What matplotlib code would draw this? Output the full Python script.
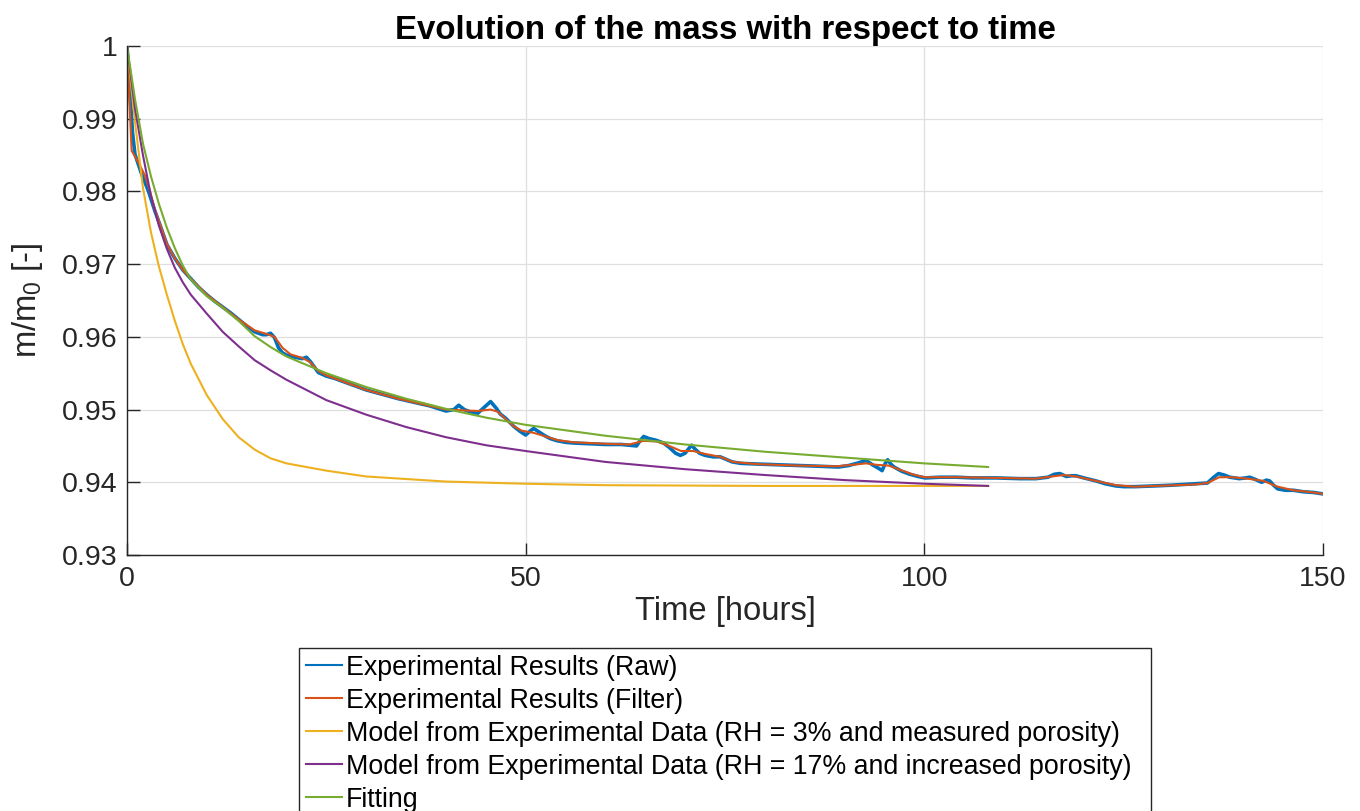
import matplotlib
matplotlib.use("Agg")
import matplotlib.pyplot as plt

plt.rcParams['font.family'] = ['Liberation Sans', 'DejaVu Sans']
plt.rcParams['mathtext.fontset'] = 'custom'
plt.rcParams['mathtext.rm'] = 'Liberation Sans'
plt.rcParams['mathtext.it'] = 'Liberation Sans'

# ---------------- data ----------------
raw_t = [0, 0.38, 0.7, 1.0, 1.8, 2.7, 3.5, 4.2, 5, 6, 6.5, 7, 8, 9, 10, 11, 12, 13, 14, 15, 16, 17,
         17.5, 18, 18.5, 19, 19.5, 20, 21, 22, 22.5, 23, 24, 25, 26, 28, 30, 32, 34, 36, 38, 40,
         41, 41.6, 42.3, 43, 44, 44.8, 45.6, 46.3, 46.8, 47.5, 48.5, 49.3, 50, 50.5, 51, 51.7,
         52.4, 53.1, 54, 55, 56, 58, 60, 62, 63.9, 64.4, 64.8, 65.5, 66.3, 67.3, 68, 68.8, 69.4,
         70, 70.8, 71.3, 71.8, 72.5, 73.5, 74.4, 75.9, 77, 79.3, 82, 84.3, 87, 89.2, 90.5, 91.5,
         92.7, 93.5, 94.3, 94.7, 95.1, 95.4, 95.8, 96.2, 97.2, 98.2, 99.2, 100.1, 102, 104, 106,
         109, 112, 114, 115.5, 116.3, 117, 117.8, 118.5, 119, 120, 121.5, 122.7, 124, 125, 126.4,
         128.9, 131, 133.9, 135.5, 136.3, 136.9, 137.6, 138.3, 139.5, 140.3, 140.8, 141.5, 142.3,
         142.9, 143.3, 143.8, 144.3, 145.3, 146.3, 147.5, 148.8, 150]
raw_m = [1.0, 0.9934, 0.9880, 0.9851, 0.9825, 0.9800, 0.9773, 0.9752, 0.9727, 0.9708, 0.9700,
         0.9692, 0.9680, 0.9668, 0.9658, 0.9649, 0.9641, 0.9633, 0.9624, 0.9615, 0.9607, 0.9603,
         0.9603, 0.9605, 0.9599, 0.9585, 0.9578, 0.9575, 0.9572, 0.9570, 0.9572, 0.9566, 0.9551,
         0.9546, 0.9543, 0.9535, 0.9527, 0.9521, 0.9515, 0.9510, 0.9505, 0.9498, 0.9500, 0.9506,
         0.9500, 0.9497, 0.9495, 0.9503, 0.9511, 0.9502, 0.9494, 0.9488, 0.9477, 0.9470, 0.9465,
         0.9470, 0.9474, 0.9469, 0.9464, 0.9460, 0.9457, 0.9455, 0.9454, 0.9453, 0.9452, 0.9452,
         0.9450, 0.9458, 0.9463, 0.9460, 0.9458, 0.9454, 0.9448, 0.9440, 0.9437, 0.9440, 0.9451,
         0.9445, 0.9440, 0.9437, 0.9435, 0.9435, 0.9428, 0.9426, 0.9425, 0.9424, 0.9423, 0.9422,
         0.9421, 0.9423, 0.9426, 0.9430, 0.9424, 0.9419, 0.9416, 0.9426, 0.9431, 0.9425, 0.9421,
         0.9415, 0.9411, 0.9408, 0.9406, 0.9407, 0.9407, 0.9406, 0.9406, 0.9405, 0.9405, 0.9407,
         0.9411, 0.9412, 0.9408, 0.9409, 0.9409, 0.9406, 0.9402, 0.9398, 0.9395, 0.9394, 0.9394,
         0.9395, 0.9396, 0.9398, 0.9399, 0.9407, 0.9412, 0.9410, 0.9407, 0.9405, 0.9406, 0.9407,
         0.9404, 0.9400, 0.9403, 0.9402, 0.9396, 0.9391, 0.9389, 0.9389, 0.9387, 0.9386, 0.9384]

filt_t = [0, 0.58, 1.42, 2.25, 2.9, 3.5, 4.2, 5, 6, 7, 8, 10, 12, 14, 16, 17.5, 18.5, 19.5, 20.5,
          22, 23, 24, 25, 28, 30, 34, 38, 40, 42, 44, 45.6, 46.5, 47.5, 48.5, 49.5, 51, 52.5, 54,
          56, 60, 63, 64.8, 66.5, 68, 69.5, 71, 72.5, 74.4, 76, 79, 84, 89, 91, 92.7, 94, 95.5,
          97, 98.5, 100, 104, 109, 114, 116, 117.5, 119, 121.5, 124, 126.4, 129, 134, 135.5, 137,
          138.5, 140.5, 142.5, 144.3, 146.3, 148.8, 150]
filt_m = [1.0, 0.9856, 0.9840, 0.9822, 0.9800, 0.9775, 0.9753, 0.9728, 0.9708, 0.9692, 0.9680,
          0.9658, 0.9641, 0.9624, 0.9609, 0.9604, 0.9600, 0.9585, 0.9576, 0.9571, 0.9565, 0.9553,
          0.9547, 0.9535, 0.9527, 0.9515, 0.9505, 0.9500, 0.9499, 0.9498, 0.9500, 0.9497, 0.9487,
          0.9477, 0.9471, 0.9468, 0.9463, 0.9458, 0.9455, 0.9453, 0.9452, 0.9457, 0.9456, 0.9450,
          0.9443, 0.9443, 0.9439, 0.9435, 0.9428, 0.9425, 0.9423, 0.9422, 0.9424, 0.9426, 0.9424,
          0.9423, 0.9417, 0.9411, 0.9407, 0.9407, 0.9406, 0.9405, 0.9408, 0.9410, 0.9408, 0.9402,
          0.9396, 0.9394, 0.9395, 0.9397, 0.9399, 0.9407, 0.9407, 0.9405, 0.9402, 0.9394, 0.9389,
          0.9386, 0.9384]

rh3_t = [0, 1, 2, 3, 4, 5, 6, 7, 8, 10, 12, 14, 16, 18, 20, 25, 30, 40, 50, 60, 80, 108]
rh3_m = [1.0, 0.9896, 0.9805, 0.9744, 0.9697, 0.9658, 0.9622, 0.9590, 0.9563, 0.9520, 0.9487,
         0.9462, 0.9445, 0.9433, 0.9426, 0.9416, 0.9408, 0.9401, 0.9398, 0.9396, 0.9395, 0.9395]

rh17_t = [0, 1, 2, 3, 4, 5, 6, 7, 8, 9, 10, 12, 14, 16, 18, 20, 25, 30, 35, 40, 45, 50, 60, 70,
          80, 90, 100, 108]
rh17_m = [1.0, 0.9914, 0.9850, 0.9794, 0.9753, 0.9721, 0.9695, 0.9675, 0.9658, 0.9645, 0.9632,
          0.9607, 0.9587, 0.9568, 0.9554, 0.9541, 0.9513, 0.9493, 0.9476, 0.9462, 0.9451, 0.9443,
          0.9428, 0.9418, 0.9410, 0.9403, 0.9398, 0.9395]

fit_t = [0, 1, 2, 3, 4, 5, 6, 7, 8, 10, 12, 14, 16, 18, 20, 25, 30, 35, 40, 45, 50, 60, 70, 80,
         90, 100, 108]
fit_m = [1.0, 0.9927, 0.9866, 0.9821, 0.9783, 0.9750, 0.9722, 0.9698, 0.9679, 0.9656, 0.9640,
         0.9622, 0.9601, 0.9586, 0.9573, 0.9550, 0.9531, 0.9515, 0.9501, 0.9489, 0.9479, 0.9464,
         0.9452, 0.9442, 0.9434, 0.9426, 0.9421]

labels = ['Experimental Results (Raw)',
          'Experimental Results (Filter)',
          'Model from Experimental Data (RH = 3% and measured porosity)',
          'Model from Experimental Data (RH = 17% and increased porosity)',
          'Fitting']
colors = ['#0072BD', '#D95319', '#EDB120', '#7E2F8E', '#77AC30']

x_ticks = [0, 50, 100, 150]
y_ticks = [0.93, 0.94, 0.95, 0.96, 0.97, 0.98, 0.99, 1.0]
y_tick_labels = ['0.93', '0.94', '0.95', '0.96', '0.97', '0.98', '0.99', '1']

# ---------------- figure ----------------
W, H = 1360, 811
fig = plt.figure(figsize=(W / 100, H / 100), dpi=100)
ax = fig.add_axes([127 / W, 1 - 555 / H, (1323 - 127) / W, (555 - 46) / H])

series = [(raw_t, raw_m, 2.6), (filt_t, filt_m, 1.5), (rh3_t, rh3_m, 1.5),
          (rh17_t, rh17_m, 1.5), (fit_t, fit_m, 1.5)]
handles = []
for (t, m, lw), c, lab in zip(series, colors, labels):
    h, = ax.plot(t, m, color=c, lw=lw, label=lab, solid_joinstyle='round')
    handles.append(h)

ax.set_xlim(0, 150)
ax.set_ylim(0.93, 1.0)
ax.set_xticks(x_ticks)
ax.set_xticklabels([str(v) for v in x_ticks])
ax.set_yticks(y_ticks)
ax.set_yticklabels(y_tick_labels)

ax.grid(True, color='#dfdfdf', lw=0.9)
ax.set_axisbelow(True)
for s in ['top', 'right']:
    ax.spines[s].set_visible(False)
for s in ['left', 'bottom']:
    ax.spines[s].set_color('#262626')
    ax.spines[s].set_linewidth(1.0)

ax.tick_params(axis='both', direction='in', length=9, width=1.0, color='#262626',
               labelcolor='#262626', labelsize=20.5)
ax.tick_params(axis='x', pad=8)
ax.tick_params(axis='y', pad=7)

ax.set_xlabel('Time [hours]', fontsize=23.6, color='#262626', labelpad=3)
ax.set_ylabel('m/m$_0$ [-]', fontsize=23.6, color='#262626', labelpad=12)
ax.set_title('Evolution of the mass with respect to time', fontsize=23.8,
             fontweight='bold', color='black', pad=4)

leg = fig.legend(handles=handles, loc='upper left',
                 bbox_to_anchor=(299 / W, 1 - 648 / H, (1151 - 299) / W, 0),
                 bbox_transform=fig.transFigure, mode='expand',
                 fontsize=19.3, frameon=True, fancybox=False, framealpha=1,
                 edgecolor='#262626', borderaxespad=0, borderpad=0.25,
                 handlelength=1.35, handletextpad=0.16, labelspacing=0.26)
leg.get_frame().set_linewidth(1.0)
for lh in leg.get_lines():
    lh.set_linewidth(1.5)
for txt in leg.get_texts():
    txt.set_color('black')

fig.savefig('out.png', dpi=100)
